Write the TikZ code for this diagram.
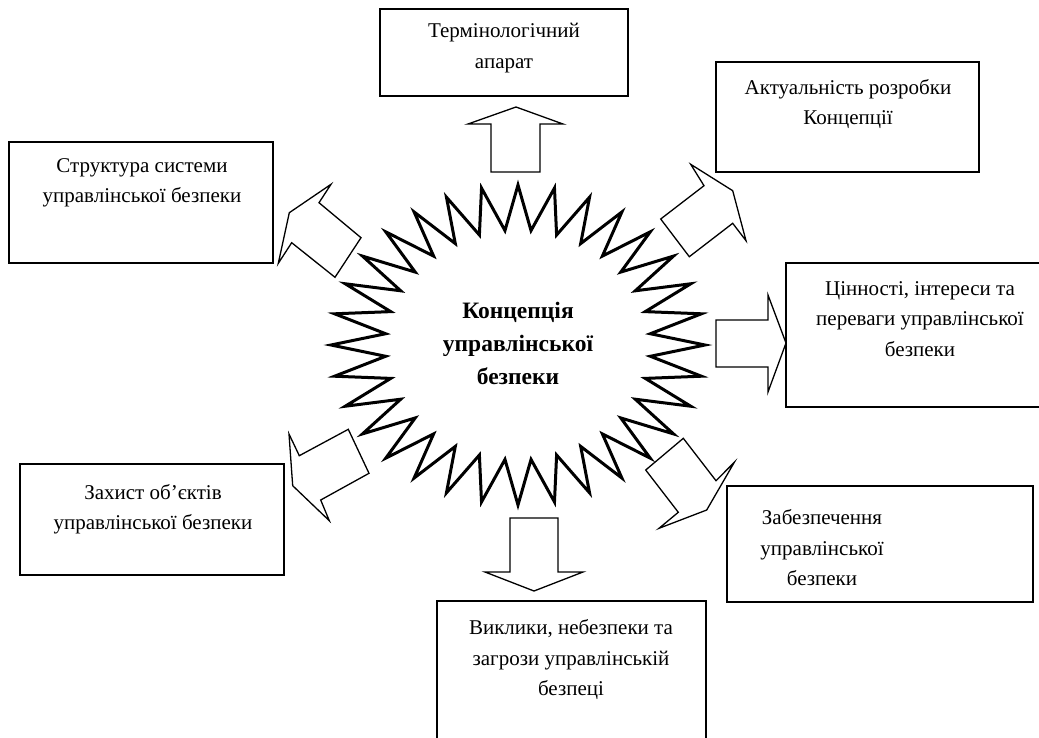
\documentclass[tikz,border=0pt]{standalone}
\usepackage{fontspec}
\setmainfont{Liberation Serif}
\begin{document}
\begin{tikzpicture}[x=1pt,y=-1pt,
  box/.style={draw, line width=1.3pt, inner sep=0pt, rectangle},
  lbl/.style={align=center, font=\fontsize{21}{30.5}\selectfont, inner sep=0pt},
  ctr/.style={align=center, font=\fontsize{23.5}{33}\selectfont\bfseries, inner sep=0pt},
  blk/.style={draw, line width=1.3pt, line join=miter},
  starline/.style={draw, line width=3pt, line join=miter}
  ]
\useasboundingbox (0,0) rectangle (1039,737);
\clip (0,0) rectangle (1039,737);

% boxes
\node[box, minimum width=248pt, minimum height=87pt]  (b1) at (504,52.5) {};
\node[box, minimum width=263pt, minimum height=110pt] (b2) at (847.5,117) {};
\node[box, minimum width=264pt, minimum height=121pt] (b3) at (141,202.5) {};
\node[box, minimum width=259pt, minimum height=144pt] (b4) at (915.5,335) {};
\node[box, minimum width=264pt, minimum height=111pt] (b5) at (152,519.5) {};
\node[box, minimum width=306pt, minimum height=116pt] (b6) at (880,544) {};
\node[box, minimum width=269pt, minimum height=159pt] (b7) at (571.5,680.5) {};

% labels
\node[lbl] (t1) at (504,48)  {Термінологічний\\апарат};
\node[lbl] (t2) at (848,104) {Актуальність розробки\\Концепції};
\node[lbl] (t3) at (142,183) {Структура системи\\управлінської безпеки};
\node[lbl] (t4) at (920,319) {Цінності, інтереси та\\переваги управлінської\\безпеки};
\node[lbl] (t5) at (153,509) {Захист об’єктів\\управлінської безпеки};
\node[lbl] (t6) at (822,548) {Забезпечення\\управлінської\\безпеки};
\node[lbl] (t7) at (571,660) {Виклики, небезпеки та\\загрози управлінській\\безпеці};

% star
\draw[starline] plot[samples at={0,...,63}]
  ({518+(mod(\x,2)==0 ? 187 : 133)*cos(\x*5.625)},
   {345-(mod(\x,2)==0 ? 160 : 115)*sin(\x*5.625)}) -- cycle;
\node[ctr] (c) at (518,343) {Концепція\\управлінської\\безпеки};

% block arrows
% up
\draw[blk] (516,107) -- (563,124) -- (540,124) -- (540,172) -- (491,172)
  -- (491,124) -- (468,124) -- cycle;
% right
\draw[blk] (786,343) -- (768,392) -- (768,367) -- (716,367) -- (716,320)
  -- (768,320) -- (768,295) -- cycle;
% down
\draw[blk] (534,591) -- (485,572) -- (510,572) -- (510,518) -- (558,518)
  -- (558,572) -- (583,572) -- cycle;
% upper left
\draw[blk] (331,184.3) -- (319,202.7) -- (361,237.7) -- (335,277.3)
  -- (291.7,242.7) -- (278.3,263.3) -- (289.3,212.7) -- cycle;
% upper right
\draw[blk] (690.7,164.3) -- (732.7,190.7) -- (746,240.7) -- (732.7,223.3)
  -- (689.3,256.7) -- (660.7,219) -- (704,185.7) -- cycle;
% lower right
\draw[blk] (645.7,470) -- (683.3,438.3) -- (716,480.7) -- (734.3,462.3)
  -- (706.7,510) -- (659,528.3) -- (678.3,512.3) -- cycle;
% lower left
\draw[blk] (348.3,429.3) -- (369,473.3) -- (320.7,500) -- (329.3,520.7)
  -- (292.7,485.7) -- (289,434) -- (299.3,455.7) -- cycle;
\end{tikzpicture}
\end{document}
